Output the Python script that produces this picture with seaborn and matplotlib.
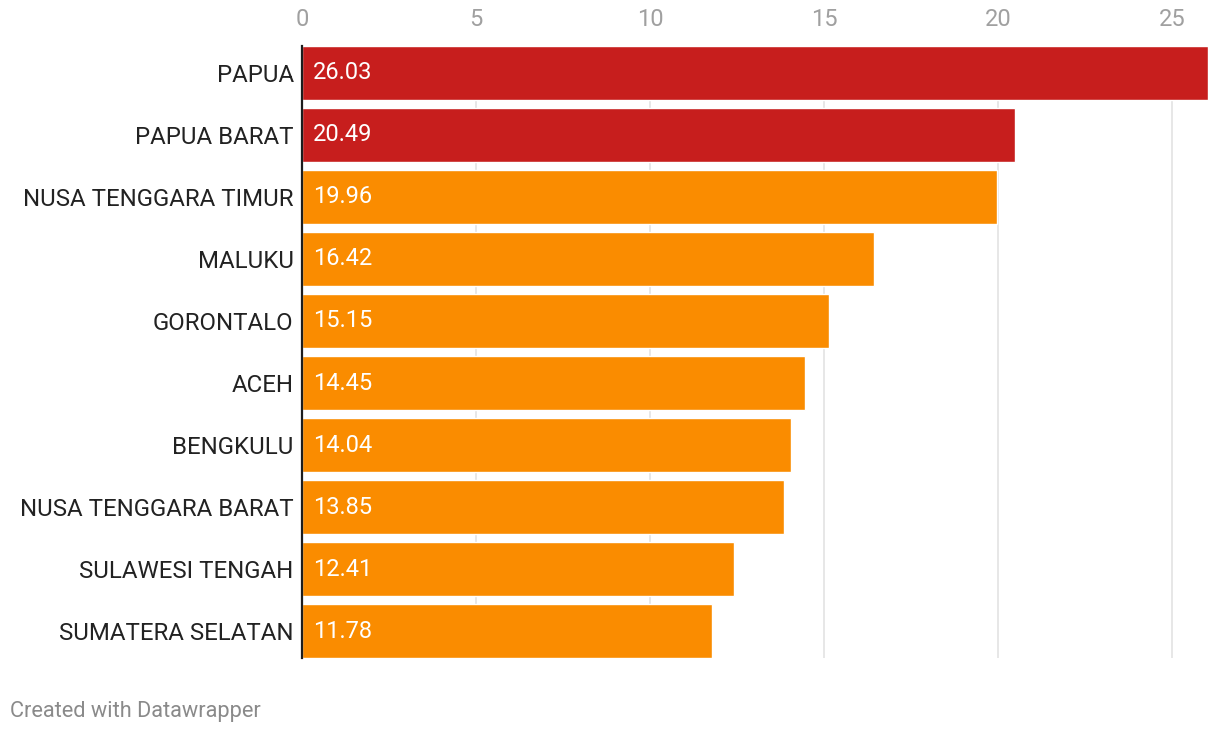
"""Highest poverty rates by province, recreated with seaborn."""

import matplotlib

matplotlib.use("Agg")
import matplotlib.pyplot as plt
import pandas as pd
import seaborn as sns


PROVINCES = [
    "PAPUA",
    "PAPUA BARAT",
    "NUSA TENGGARA TIMUR",
    "MALUKU",
    "GORONTALO",
    "ACEH",
    "BENGKULU",
    "NUSA TENGGARA BARAT",
    "SULAWESI TENGAH",
    "SUMATERA SELATAN",
]
RATES = [26.03, 20.49, 19.96, 16.42, 15.15, 14.45, 14.04, 13.85, 12.41, 11.78]
X_TICKS = [0, 5, 10, 15, 20, 25]

RED = "#c71e1d"
ORANGE = "#fa8c00"


def main():
    sns.set_theme(style="white")
    plt.rcParams["font.family"] = ["Roboto", "DejaVu Sans"]

    df = pd.DataFrame({"Province": PROVINCES, "Rate": RATES})
    colors = [RED if i < 2 else ORANGE for i in range(len(PROVINCES))]
    bar_width = 0.87

    fig = plt.figure(figsize=(12.2, 7.34), dpi=100)
    ax = fig.add_axes([302 / 1220, 1 - 658 / 734, (1208 - 302) / 1220, (658 - 46) / 734])

    sns.barplot(
        data=df,
        x="Rate",
        y="Province",
        hue="Province",
        palette=colors,
        saturation=1,
        width=bar_width,
        legend=False,
        orient="h",
        ax=ax,
    )

    # value labels inside bars, near the baseline
    for i, v in enumerate(RATES):
        ax.annotate(
            f"{v:.2f}",
            xy=(0, i),
            xytext=(8, 0),
            textcoords="offset points",
            va="center",
            ha="left",
            color="white",
            fontsize=17,
        )

    ax.set_xlim(0, max(RATES))
    ax.set_ylim(len(PROVINCES) - 1 + bar_width / 2, -bar_width / 2)
    ax.set_xticks(X_TICKS)
    ax.xaxis.tick_top()
    ax.tick_params(axis="x", length=0, pad=11, labelsize=17, labelcolor="#a0a0a0")
    ax.tick_params(axis="y", length=0, pad=6, labelsize=17.3, labelcolor="#222222")
    ax.set_xlabel("")
    ax.set_ylabel("")

    ax.grid(axis="x", color="#e3e3e3", linewidth=1.2)
    ax.set_axisbelow(True)
    for side in ["top", "right", "bottom"]:
        ax.spines[side].set_visible(False)
    ax.spines["left"].set_color("#1d1d1d")
    ax.spines["left"].set_linewidth(1.6)
    ax.spines["left"].set_zorder(5)

    fig.text(10 / 1220, 1 - 712 / 734, "Created with Datawrapper",
             fontsize=15.7, color="#8a8a8a", va="center", ha="left")

    fig.savefig("out.png", dpi=100)
    plt.close(fig)


if __name__ == "__main__":
    main()
